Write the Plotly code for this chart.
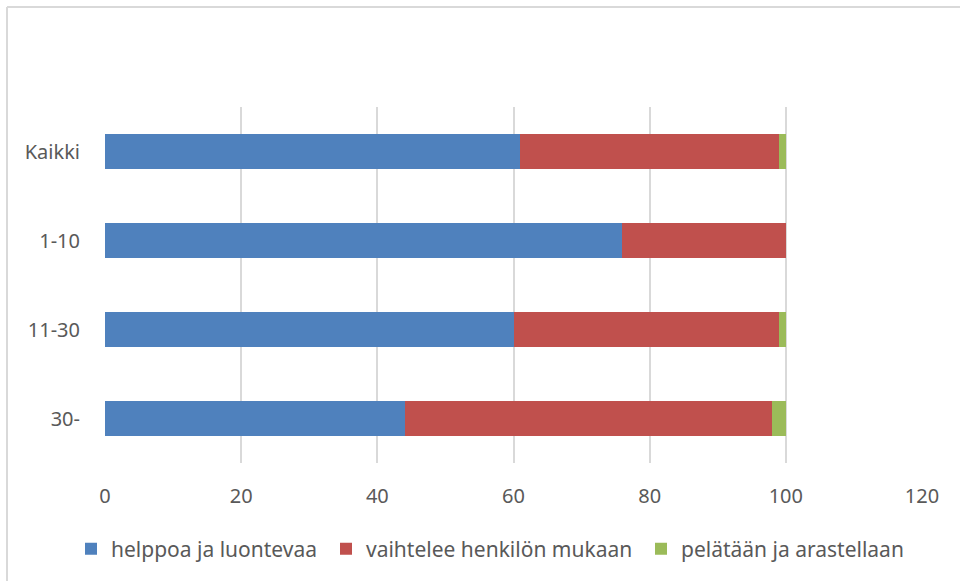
import plotly.graph_objects as go

categories = ["Kaikki", "1-10", "11-30", "30-"]
helppoa = [61, 76, 60, 44]
vaihtelee = [38, 24, 39, 54]
pelataan = [1, 0, 1, 2]
series_names = ["helppoa ja luontevaa", "vaihtelee henkilön mukaan", "pelätään ja arastellaan"]
colors = ["#4f81bd", "#c0504d", "#9bbb59"]
x_ticks = [0, 20, 40, 60, 80, 100, 120]

FONT = "Noto Sans"
FS = 20
W, H = 960, 581
ML, MR, MT, MB = 105, 38, 107, 118
PW, PH = W - ML - MR, H - MT - MB

def px_x(p):
    return (p - ML) / PW

def px_y(p):
    return 1 - (p - MT) / PH

legend_ids = ["legend", "legend2", "legend3"]
legend_left_px = [71, 326, 641]

fig = go.Figure()
for name, vals, col, lid in zip(series_names, [helppoa, vaihtelee, pelataan], colors, legend_ids):
    fig.add_trace(go.Bar(
        y=categories, x=vals, name=name, orientation="h",
        marker=dict(color=col, line=dict(width=0)),
        legend=lid,
    ))

legend_layout = {}
for lid, lx in zip(legend_ids, legend_left_px):
    legend_layout[lid] = dict(
        orientation="h", x=px_x(lx), xanchor="left", y=px_y(549), yanchor="middle",
        font=dict(size=21, color="#595959"), bgcolor="rgba(0,0,0,0)",
        itemwidth=30,
    )

fig.update_layout(
    width=W, height=H,
    barmode="stack", bargap=0.61,
    paper_bgcolor="white", plot_bgcolor="white",
    margin=dict(l=ML, r=MR, t=MT, b=MB),
    font=dict(family=FONT, size=FS, color="#595959"),
    xaxis=dict(
        range=[0, 120], tickvals=x_ticks, ticktext=[str(v) for v in x_ticks],
        showgrid=True, gridcolor="#d9d9d9", gridwidth=1.5,
        zeroline=False, showline=False,
        ticks="outside", ticklen=15, tickcolor="rgba(0,0,0,0)",
        tickfont=dict(size=FS, color="#595959"),
    ),
    yaxis=dict(
        categoryorder="array", categoryarray=categories[::-1],
        showgrid=False, zeroline=False, showline=False,
        ticks="outside", ticklen=20, tickcolor="rgba(0,0,0,0)",
        tickfont=dict(size=FS, color="#595959"),
    ),
    showlegend=True,
    shapes=[
        dict(type="line", xref="paper", yref="paper",
             x0=px_x(7), x1=px_x(960), y0=px_y(7), y1=px_y(7),
             line=dict(color="#d9d9d9", width=2)),
        dict(type="line", xref="paper", yref="paper",
             x0=px_x(7), x1=px_x(7), y0=px_y(7), y1=px_y(581),
             line=dict(color="#d9d9d9", width=2)),
    ],
    **legend_layout,
)

fig.write_html("out.html", config={"displayModeBar": False},
               post_script="document.body.style.margin='0';document.body.style.overflow='hidden';")
